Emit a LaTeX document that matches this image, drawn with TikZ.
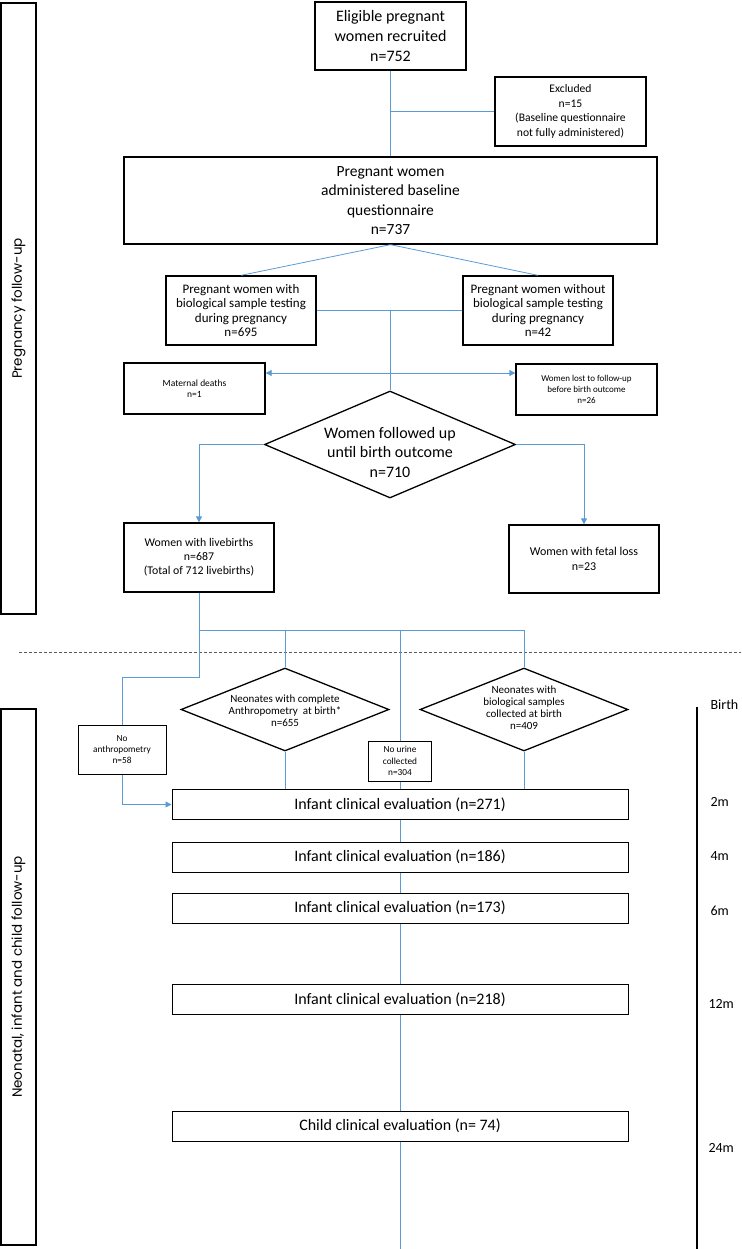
\documentclass[tikz,border=0pt]{standalone}
\usepackage{fontspec}
\setmainfont{Carlito}
\newfontfamily\sidefont{Poppins}
\usetikzlibrary{shapes.geometric,arrows.meta}
\definecolor{flowblue}{RGB}{91,155,213}

\begin{document}
\begin{tikzpicture}[x=1pt,y=-1pt,
    box/.style={draw, line width=1.3pt, fill=white, align=center, inner sep=0pt},
    evalbox/.style={draw, line width=1pt, fill=white, inner sep=0pt,
      minimum width=456pt, minimum height=30pt, font=\fontsize{16}{18}\selectfont},
    decide/.style={diamond, draw, line width=1.3pt, fill=white, inner sep=0pt},
    sidebox/.style={draw, line width=1.3pt, rotate=90, inner sep=0pt,
      minimum height=35pt, font=\sidefont\fontsize{13.5}{16}\selectfont},
    flow/.style={draw=flowblue, line width=0.8pt},
    arrowed/.style={flow, -{Triangle[length=6pt,width=6pt]}},
    month/.style={anchor=west, font=\fontsize{14}{16}\selectfont}]
  \useasboundingbox (0,0) rectangle (741,1249);

  % pregnancy part
  \node[box, minimum width=151pt, minimum height=68pt, font=\fontsize{16}{20}\selectfont]
    (recruit) at (390.5,36) {Eligible pregnant\\women recruited\\n=752};
  \node[box, minimum width=151pt, minimum height=69pt, font=\fontsize{11.6}{14.7}\selectfont]
    (excl) at (570.5,111.5) {Excluded\\n=15\\(Baseline questionnaire\\not fully administered)};
  \node[box, minimum width=533pt, minimum height=87pt, font=\fontsize{15.5}{19.5}\selectfont]
    (base) at (390.5,200.5) {Pregnant women\\administered baseline\\questionnaire\\n=737};
  \node[box, minimum width=150pt, minimum height=69pt, font=\fontsize{13}{14.4}\selectfont]
    (withbio) at (241,310.5) {Pregnant women with\\biological sample testing\\during pregnancy\\n=695};
  \node[box, minimum width=150pt, minimum height=69pt, font=\fontsize{13}{14.4}\selectfont]
    (nobio) at (538,310.5) {Pregnant women without\\biological sample testing\\during pregnancy\\n=42};
  \node[box, minimum width=141pt, minimum height=51pt, font=\fontsize{9.5}{10.7}\selectfont]
    (death) at (194.5,388.5) {Maternal deaths\\n=1};
  \node[box, minimum width=141pt, minimum height=51pt, font=\fontsize{9}{10.7}\selectfont]
    (lost) at (586.5,389.5) {Women lost to follow-up\\before birth outcome\\n=26};
  \node[decide, minimum width=251pt, minimum height=107pt] (follow) at (390,444.5) {};
  \node[align=center, font=\fontsize{16}{19.5}\selectfont] (followtxt) at (390,452)
    {Women followed up\\until birth outcome\\n=710};
  \node[box, minimum width=150pt, minimum height=69pt, font=\fontsize{11.8}{14.2}\selectfont]
    (live) at (199,557.5) {Women with livebirths\\n=687\\(Total of 712 livebirths)};
  \node[box, minimum width=150pt, minimum height=68pt, font=\fontsize{12}{14.5}\selectfont]
    (fetal) at (584,559) {Women with fetal loss\\n=23};

  \coordinate (excljoin) at (390.5,111.5);
  \coordinate (biojoin) at (390,310);
  \coordinate (lossjoin) at (390,373);
  \draw[flow] (recruit) -- (base);
  \draw[flow] (excljoin) -- (excl.west);
  \draw[flow] (base.south) -- (withbio.north);
  \draw[flow] (base.south) -- (nobio.north);
  \draw[flow] (withbio.east) -- (nobio.west);
  \draw[flow] (biojoin) -- (follow.north);
  \draw[flow, {Triangle[length=6pt,width=6pt]}-{Triangle[length=6pt,width=6pt]}]
    (death.east |- lossjoin) -- (lost.west |- lossjoin);
  \draw[arrowed] (follow.west) -| (live.north);
  \draw[arrowed] (follow.east) -| (fetal.north);

  \draw[densely dashed, gray!70!black, line width=0.8pt] (19,652) -- (741,652);

  % neonatal part
  \coordinate (split) at (199,630);
  \coordinate (bend) at (199,677);
  \draw[flow] (live.south) -- (split) -- (524,630);
  \draw[flow] (split) -- (bend) -| (122,725);
  \node[box, line width=1pt, minimum width=88pt, minimum height=49pt, font=\fontsize{9.3}{11}\selectfont]
    (noanthro) at (122,749.5) {No\\anthropometry\\n=58};
  \node[decide, minimum width=208pt, minimum height=83pt] (anthro) at (285,709.5) {};
  \node[align=center, font=\fontsize{11}{12}\selectfont] (anthrotxt) at (285,711)
    {Neonates with complete\\Anthropometry~~at birth*\\n=655};
  \node[decide, minimum width=208pt, minimum height=83pt] (biosam) at (524,709.5) {};
  \node[align=center, font=\fontsize{11}{12}\selectfont] (biosamtxt) at (524,708)
    {Neonates with\\biological samples\\collected at birth\\n=409};
  \node[box, line width=1pt, minimum width=63pt, minimum height=40pt, font=\fontsize{9.3}{11.5}\selectfont]
    (nourine) at (400,761) {No urine\\collected\\n=304};

  \node[evalbox] (eval2) at (400,804.5) {Infant clinical evaluation (n=271)};
  \node[evalbox] (eval4) at (400,857) {Infant clinical evaluation (n=186)};
  \node[evalbox] (eval6) at (400,908) {Infant clinical evaluation (n=173)};
  \node[evalbox] (eval12) at (400,999.5) {Infant clinical evaluation (n=218)};
  \node[evalbox] (eval24) at (400,1126) {Child clinical evaluation (n= 74)};
  \coordinate (bottom) at (400,1249);

  \draw[flow] (split -| anthro.north) -- (anthro.north);
  \draw[flow] (split -| nourine.north) -- (nourine.north);
  \draw[flow] (split -| biosam.north) -- (biosam.north);
  \draw[arrowed] (noanthro.south) |- (eval2.west);
  \draw[flow] (anthro.south) -- (anthro.south |- eval2.north);
  \draw[flow] (nourine.south) -- (eval2.north);
  \draw[flow] (biosam.south) -- (biosam.south |- eval2.north);
  \draw[flow] (eval2) -- (eval4);
  \draw[flow] (eval4) -- (eval6);
  \draw[flow] (eval6) -- (eval12);
  \draw[flow] (eval12) -- (eval24);
  \draw[flow] (eval24) -- (bottom);

  % side labels and time line
  \node[sidebox, minimum width=611pt] (pregside) at (18.5,308.5) {Pregnancy follow-up};
  \node[sidebox, minimum width=536pt] (childside) at (18.5,977) {Neonatal, infant and child follow-up};
  \draw[line width=1.3pt] (childside.north east) -- ++(0,10) (childside.south east) -- ++(0,10);

  \coordinate (birthtick) at (697,707);
  \draw[line width=1.3pt] (birthtick) -- (697,1249);
  \node[month] (birth) at (707,705) {Birth};
  \node[month] (m2) at (707,802) {2m};
  \node[month] (m4) at (707,856) {4m};
  \node[month] (m6) at (707,911) {6m};
  \node[month] (m12) at (705,1004) {12m};
  \node[month] (m24) at (705,1148) {24m};
\end{tikzpicture}
\end{document}
